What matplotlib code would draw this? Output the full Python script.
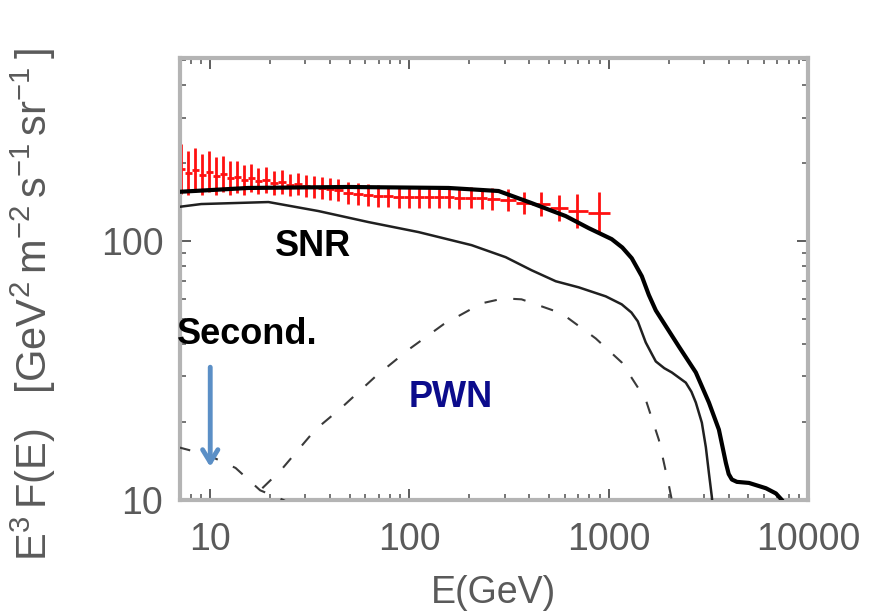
import numpy as np
import matplotlib
matplotlib.use("Agg")
import matplotlib.pyplot as plt

plt.rcParams['font.family'] = ['Liberation Sans', 'DejaVu Sans']
plt.rcParams['mathtext.default'] = 'regular'

# Measured electron+positron spectrum (E^3 F(E))
E_data = [7.15, 7.75, 8.41, 9.12, 9.88, 10.7, 11.6, 12.6, 13.7, 14.8, 16.1,
          17.4, 19.1, 21.0, 23.0, 25.2, 27.7, 30.4, 33.3, 36.5, 40.1, 44.0,
          49.4, 55.4, 62.2, 69.8, 78.4, 88.1, 98.9, 111, 125, 140, 157, 178,
          203, 230, 261, 314, 374, 455, 561, 691, 891]
F_data = [190.1, 183.5, 188.4, 180.2, 185.1, 178.6, 181.8, 175.5, 177.0,
          172.4, 175.5, 170.9, 172.4, 167.8, 169.3, 164.9, 166.3, 163.4,
          161.9, 160.5, 159.1, 157.7, 153.5, 152.1, 150.8, 149.4, 149.0,
          148.1, 147.6, 148.3, 147.8, 148.1, 147.5, 146.8, 147.2, 146.5,
          145.5, 144.2, 140.3, 139.1, 134.3, 130.7, 128.4]
rel_err = [1.25, 1.22, 1.22, 1.20, 1.20, 1.18, 1.17, 1.16, 1.15, 1.14, 1.13,
           1.12, 1.12, 1.11, 1.11, 1.10, 1.10, 1.10, 1.10, 1.10, 1.10, 1.10,
           1.10, 1.10, 1.10, 1.10, 1.10, 1.10, 1.10, 1.10, 1.10, 1.10, 1.10,
           1.10, 1.10, 1.10, 1.10, 1.10, 1.10, 1.11, 1.12, 1.16, 1.21]

# Model: total (SNR + PWN + secondaries)
E_total = [6.9, 15.5, 49.3, 157, 280, 410, 608, 793, 1035, 1170, 1305, 1466,
           1589, 1723, 1933, 2247, 2736, 3183, 3572, 3873, 4000, 4150, 4400,
           5055, 6155, 6906, 7400, 8026]
F_total = [155.0, 160.5, 161.9, 160.5, 156.2, 140.3, 125.0, 112.3, 101.8,
           94.5, 85.9, 73.2, 62.0, 54.0, 47.0, 39.2, 31.1, 23.8, 18.7, 13.9,
           12.6, 12.0, 11.75, 11.64, 11.1, 10.6, 10.0, 9.15]

# Model: supernova remnants
E_snr = [6.9, 9.01, 19.6, 34.9, 62.2, 111, 205, 304, 410, 542, 707, 966,
         1162, 1300, 1399, 1534, 1650, 1723, 1900, 2073, 2437, 2600, 2736,
         2933, 3072, 3183, 3293, 3370]
F_snr = [135.5, 139.1, 141.6, 130.7, 118.5, 108.4, 96.5, 86.7, 77.2, 70.0,
         66.3, 61.2, 57.0, 53.0, 49.0, 40.6, 36.5, 34.3, 32.3, 31.1, 28.4,
         26.2, 23.8, 19.9, 16.0, 12.7, 10.27, 8.37]

# Model: pulsar wind nebula
E_pwn = [15.0, 16.4, 17.8, 22.7, 33.7, 45.5, 67.5, 98.9, 148, 230, 297, 365,
         580, 860, 1162, 1534, 1784, 2002, 2073, 2122]
F_pwn = [9.0, 10.0, 10.9, 13.07, 18.7, 22.7, 30.0, 38.1, 47.7, 57.5, 60.1,
         59.6, 52.6, 42.1, 34.0, 24.4, 17.1, 11.43, 10.0, 8.37]

# Model: secondary production
E_sec = [6.9, 9.77, 13.4, 17.8, 23.3, 30.0]
F_sec = [16.0, 14.9, 13.3, 10.9, 10.0, 9.0]

fig = plt.figure(figsize=(8.75, 6.15), dpi=100)
ax = fig.add_axes([0.2057, 0.187, 0.7177, 0.7187])

E = np.array(E_data)
F = np.array(F_data)
r = np.array(rel_err)
logE = np.log10(E)
mid = (logE[1:] + logE[:-1]) / 2
lo_edge = np.concatenate([[logE[0] - (mid[0] - logE[0])], mid])
hi_edge = np.concatenate([mid, [logE[-1] + (logE[-1] - mid[-1])]])
xerr = [E - 10 ** lo_edge, 10 ** hi_edge - E]
yerr = [F - F / r, F * r - F]
ax.errorbar(E, F, xerr=xerr, yerr=yerr, fmt='none', ecolor='#ff1010',
            elinewidth=2.0, capsize=0, zorder=2)

dash = (0, (6, 8))
ax.plot(E_sec, F_sec, color='#3a3a3a', lw=1.5, linestyle=dash, zorder=3)
ax.plot(E_pwn, F_pwn, color='#3a3a3a', lw=1.5, linestyle=dash, zorder=3)
ax.plot(E_snr, F_snr, color='#202020', lw=1.8, zorder=4)
ax.plot(E_total, F_total, color='black', lw=3.0, zorder=5)

ax.set_xscale('log')
ax.set_yscale('log')
ax.set_xlim(7.05, 10000)
ax.set_ylim(10, 510)

ax.set_xticks([10, 100, 1000, 10000])
ax.set_xticklabels(['10', '100', '1000', '10000'])
ax.set_yticks([10, 100])
ax.set_yticklabels(['10', '100'])

for s in ax.spines.values():
    s.set_color('#b4b4b4')
    s.set_linewidth(3.0)

ax.tick_params(which='both', direction='in', top=True, right=True,
               color='#505050')
ax.tick_params(which='major', length=8, width=1.3, labelsize=27,
               labelcolor='#5a5a5a')
ax.tick_params(axis='x', which='major', pad=16)
ax.tick_params(axis='y', which='major', pad=12)
ax.tick_params(which='minor', length=4, width=1.1)

ax.set_xlabel('E(GeV)', fontsize=27, color='#5a5a5a', labelpad=12)
ax.set_ylabel(r'E$^{3}$$\,$F(E)   [GeV$^{2}$$\,$m$^{-2}$$\,$s$^{-1}$$\,$sr$^{-1}$$\,$]',
              fontsize=30, color='#5a5a5a')
ax.yaxis.set_label_coords(-0.195, 0.443)

ax.text(32.9, 95.6, 'SNR', fontsize=26, fontweight='bold', color='black',
        ha='center', va='center', zorder=6)
ax.text(15.3, 43.6, 'Second.', fontsize=26, fontweight='bold', color='black',
        ha='center', va='center', zorder=6)
ax.text(161, 24.8, 'PWN', fontsize=26, fontweight='bold', color='#0c0c8c',
        ha='center', va='center', zorder=6)
ax.annotate('', xy=(10, 13.1), xytext=(10, 33.4),
            arrowprops=dict(arrowstyle='->,head_length=0.9,head_width=0.55',
                            color='#5b8fc6', lw=3.5), zorder=6)

fig.savefig('out.png', dpi=100)
